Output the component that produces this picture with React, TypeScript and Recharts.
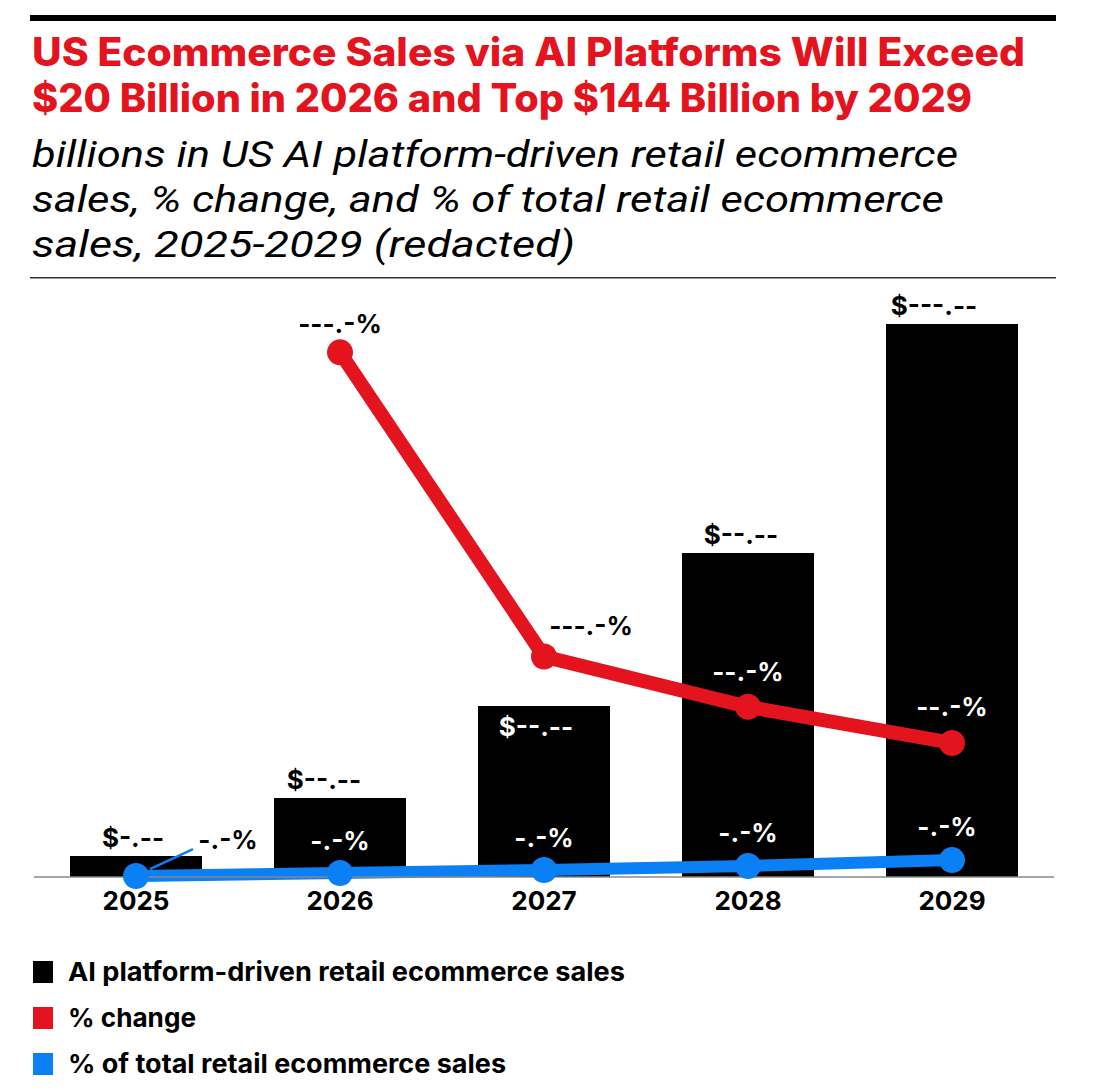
import React from "react";
import { ComposedChart, Bar, Line, XAxis, YAxis, LabelList } from "recharts";

// ---------- data ----------
const years = ["2025", "2026", "2027", "2028", "2029"];
const salesBillions = [5.5, 20.6, 44.5, 84.4, 144.0];
const pctChange: (number | null)[] = [null, 276, 116, 89.5, 70.5];
const pctOfTotal = [0.5, 2.1, 3.7, 5.8, 8.9];
const salesLabels = ["$-.--", "$--.--", "$--.--", "$--.--", "$---.--"];
const changeLabels = ["", "---.-%", "---.-%", "--.-%", "--.-%"];
const shareLabels = ["-.-%", "-.-%", "-.-%", "-.-%", "-.-%"];

const titleLines = [
  "US Ecommerce Sales via AI Platforms Will Exceed",
  "$20 Billion in 2026 and Top $144 Billion by 2029",
];
const subtitleLines = [
  "billions in US AI platform-driven retail ecommerce",
  "sales, % change, and % of total retail ecommerce",
  "sales, 2025-2029 (redacted)",
];
const legendLabels = [
  "AI platform-driven retail ecommerce sales",
  "% change",
  "% of total retail ecommerce sales",
];

// ---------- styles ----------
const RED = "#e3141d";
const BLUE = "#0b80f5";
const BLACK = "#000000";
const FONT = "Inter, 'Noto Sans', sans-serif";
const legendColors = [BLACK, RED, BLUE];

const titleWidths = [993, 940];
const subtitleWidths = [926, 912, 543];
const legendWidths = [557, 128, 438];

const data = years.map((y, i) => ({
  year: y,
  sales: salesBillions[i],
  change: pctChange[i],
  share: pctOfTotal[i],
}));

const labelStyle = {
  fontFamily: FONT,
  fontWeight: 700,
  fontSize: 26,
} as const;

// bar label placement (index 2 sits inside the bar in white)
const barPlacement = [
  { dx: -3, dy: -9, fill: BLACK },
  { dx: -16, dy: -9, fill: BLACK },
  { dx: -8, dy: 30, fill: "#fff" },
  { dx: -7, dy: -9, fill: BLACK },
  { dx: -18, dy: -9, fill: BLACK },
];

const BarLabel = (props: any) => {
  const { x, y, width, index } = props;
  const p = barPlacement[index];
  return (
    <text x={x + width / 2 + p.dx} y={y + p.dy} textAnchor="middle" fill={p.fill} {...labelStyle}>
      {salesLabels[index]}
    </text>
  );
};

const changePlacement = [
  { dx: 0, dy: 0, fill: BLACK },
  { dx: 0, dy: -19, fill: BLACK },
  { dx: 47, dy: -21, fill: BLACK },
  { dx: 0, dy: -26, fill: "#fff" },
  { dx: 0, dy: -27, fill: "#fff" },
];

const ChangeLabel = (props: any) => {
  const { x, y, index } = props;
  if (!changeLabels[index] || y == null) return null;
  const p = changePlacement[index];
  return (
    <text x={x + p.dx} y={y + p.dy} textAnchor="middle" fill={p.fill} {...labelStyle}>
      {changeLabels[index]}
    </text>
  );
};

const sharePlacement = [
  { dx: 92, dy: -27, fill: BLACK },
  { dx: 0, dy: -23, fill: "#fff" },
  { dx: 0, dy: -23, fill: "#fff" },
  { dx: 0, dy: -24, fill: "#fff" },
  { dx: -5, dy: -24, fill: "#fff" },
];

const ShareLabel = (props: any) => {
  const { x, y, index } = props;
  const p = sharePlacement[index];
  return (
    <g>
      {index === 0 && (
        <line x1={x + 14} y1={y - 7} x2={x + 57} y2={y - 27} stroke={BLUE} strokeWidth={2.5} />
      )}
      <text x={x + p.dx} y={y + p.dy} textAnchor="middle" fill={p.fill} {...labelStyle}>
        {shareLabels[index]}
      </text>
    </g>
  );
};

const YearTick = (props: any) => {
  const { x, y, payload } = props;
  return (
    <text x={x} y={y + 33} textAnchor="middle" fill={BLACK} {...labelStyle}>
      {payload.value}
    </text>
  );
};

export default function App() {
  return (
    <div
      style={{
        position: "absolute",
        left: 0,
        top: 0,
        width: 1100,
        height: 1092,
        background: "#fff",
        overflow: "hidden",
      }}
    >
      <svg width={1100} height={290} style={{ position: "absolute", left: 0, top: 0 }}>
        <rect x={30} y={15} width={1026} height={6} fill={BLACK} />
        {titleLines.map((t, i) => (
          <text
            key={t}
            x={32}
            y={66 + i * 46}
            fill={RED}
            fontFamily={FONT}
            fontWeight={800}
            fontSize={39}
            textLength={titleWidths[i]}
            lengthAdjust="spacingAndGlyphs"
          >
            {t}
          </text>
        ))}
        {subtitleLines.map((t, i) => (
          <text
            key={t}
            x={32}
            y={167 + i * 45}
            fill={BLACK}
            fontFamily="Roboto, 'Noto Sans', sans-serif"
            fontStyle="italic"
            fontWeight={400}
            fontSize={37}
            textLength={subtitleWidths[i]}
            lengthAdjust="spacingAndGlyphs"
          >
            {t}
          </text>
        ))}
        <rect x={30} y={277} width={1026} height={1.5} fill="#333" />
      </svg>

      <div style={{ position: "absolute", left: 0, top: 280 }}>
        <ComposedChart
          width={1100}
          height={640}
          data={data}
          margin={{ top: 21, right: 46, left: 34, bottom: 13 }}
        >
          <XAxis
            dataKey="year"
            height={30}
            tickLine={false}
            tickSize={0}
            tickMargin={0}
            axisLine={{ stroke: "#888", strokeWidth: 1.5 }}
            tick={<YearTick />}
            interval={0}
          />
          <YAxis yAxisId="sales" domain={[0, 150]} hide />
          <YAxis yAxisId="pct" domain={[0, 303]} hide />
          <Bar
            yAxisId="sales"
            dataKey="sales"
            fill={BLACK}
            barSize={132}
            isAnimationActive={false}
          >
            <LabelList dataKey="sales" content={<BarLabel />} />
          </Bar>
          <Line
            yAxisId="pct"
            dataKey="change"
            stroke={RED}
            strokeWidth={14}
            dot={{ r: 13, fill: RED, stroke: RED, strokeWidth: 0 }}
            activeDot={false}
            connectNulls={false}
            isAnimationActive={false}
          >
            <LabelList dataKey="change" content={<ChangeLabel />} />
          </Line>
          <Line
            yAxisId="pct"
            dataKey="share"
            stroke={BLUE}
            strokeWidth={12}
            dot={{ r: 13, fill: BLUE, stroke: BLUE, strokeWidth: 0 }}
            activeDot={false}
            isAnimationActive={false}
          >
            <LabelList dataKey="share" content={<ShareLabel />} />
          </Line>
        </ComposedChart>
      </div>

      <svg width={1100} height={160} style={{ position: "absolute", left: 0, top: 940 }}>
        {legendLabels.map((t, i) => (
          <g key={t}>
            <rect x={33} y={21 + i * 46} width={20} height={22} fill={legendColors[i]} />
            <text
              x={68}
              y={41 + i * 46}
              fill={BLACK}
              fontFamily={FONT}
              fontWeight={700}
              fontSize={26}
              textLength={legendWidths[i]}
              lengthAdjust="spacingAndGlyphs"
            >
              {t}
            </text>
          </g>
        ))}
      </svg>
    </div>
  );
}
